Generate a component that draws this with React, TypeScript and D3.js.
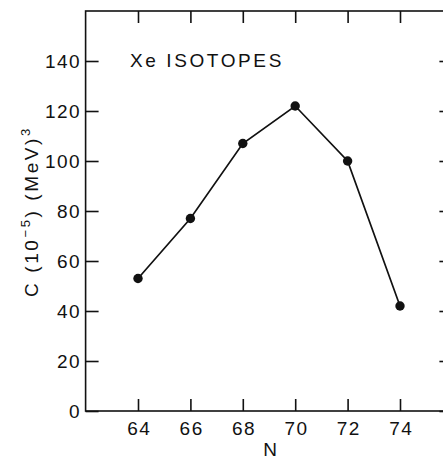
import React, { useEffect, useRef } from "react";
import * as d3 from "d3";

const neutrons = [64, 66, 68, 70, 72, 74];
const cValues = [53, 77, 107, 122, 100, 42];
const xTicks = [64, 66, 68, 70, 72, 74];
const yTicks = [0, 20, 40, 60, 80, 100, 120, 140];

export default function App() {
  const ref = useRef<SVGSVGElement>(null);

  useEffect(() => {
    const svg = d3.select(ref.current);
    svg.selectAll("*").remove();

    const width = 443;
    const height = 461;
    const font = "'Liberation Sans', Arial, Helvetica, sans-serif";
    const ink = "#111";

    svg.attr("width", width).attr("height", height);
    svg.append("rect").attr("width", width).attr("height", height).attr("fill", "#fff");

    const x = d3.scaleLinear().domain([62, 76]).range([85.6, 452.4]);
    const y = d3.scaleLinear().domain([0, 160]).range([411, 11]);

    // frame
    svg
      .append("rect")
      .attr("x", x(62))
      .attr("y", y(160))
      .attr("width", x(76) - x(62))
      .attr("height", y(0) - y(160))
      .attr("fill", "none")
      .attr("stroke", ink)
      .attr("stroke-width", 1.6);

    const styleAxis = (g: d3.Selection<SVGGElement, unknown, null, undefined>) => {
      g.select(".domain").remove();
      g.selectAll(".tick line").attr("stroke", ink).attr("stroke-width", 1.6);
      g.selectAll(".tick text")
        .attr("fill", ink)
        .style("font-family", font)
        .style("font-size", "19px")
        .style("letter-spacing", "1.5px");
    };

    svg
      .append("g")
      .attr("transform", `translate(${x(62)},0)`)
      .call(d3.axisLeft(y).tickValues(yTicks).tickSizeInner(-13).tickSizeOuter(0).tickPadding(4.5))
      .call(styleAxis);

    svg
      .append("g")
      .attr("transform", `translate(${x(76)},0)`)
      .call(d3.axisRight(y).tickValues(yTicks).tickSizeInner(-13).tickSizeOuter(0).tickFormat(() => ""))
      .call(styleAxis);

    svg
      .append("g")
      .attr("transform", `translate(0,${y(0)})`)
      .call(d3.axisBottom(x).tickValues(xTicks).tickSizeInner(-12).tickSizeOuter(0).tickPadding(11))
      .call(styleAxis)
      .selectAll(".tick text")
      .attr("dx", "0.75px");

    svg
      .append("g")
      .attr("transform", `translate(0,${y(160)})`)
      .call(d3.axisTop(x).tickValues(xTicks).tickSizeInner(-12).tickSizeOuter(0).tickFormat(() => ""))
      .call(styleAxis);

    const pts = neutrons.map((n, i) => [n, cValues[i]] as [number, number]);
    const line = d3
      .line<[number, number]>()
      .x((d) => x(d[0]))
      .y((d) => y(d[1]));

    svg
      .append("path")
      .attr("d", line(pts))
      .attr("fill", "none")
      .attr("stroke", ink)
      .attr("stroke-width", 1.7);

    svg
      .selectAll("circle.pt")
      .data(pts)
      .enter()
      .append("circle")
      .attr("class", "pt")
      .attr("cx", (d) => x(d[0]))
      .attr("cy", (d) => y(d[1]))
      .attr("r", 4.7)
      .attr("fill", ink);

    // title
    svg
      .append("text")
      .attr("x", 130)
      .attr("y", 67)
      .attr("fill", ink)
      .style("font-family", font)
      .style("font-size", "19px")
      .style("letter-spacing", "2.6px")
      .text("Xe ISOTOPES");

    // x label
    svg
      .append("text")
      .attr("x", 270)
      .attr("y", 456)
      .attr("text-anchor", "middle")
      .attr("fill", ink)
      .style("font-family", font)
      .style("font-size", "19px")
      .text("N");

    // y label
    const yl = svg
      .append("text")
      .attr("transform", "translate(38,297) rotate(-90)")
      .attr("fill", ink)
      .style("font-family", font)
      .style("font-size", "19px")
      .style("letter-spacing", "2.6px");
    yl.append("tspan").text("C (10");
    yl.append("tspan").attr("dy", -8).style("font-size", "13px").text("\u22125");
    yl.append("tspan").attr("dy", 8).text(") (MeV)");
    yl.append("tspan").attr("dy", -8).style("font-size", "13px").text("3");
  }, []);

  return (
    <div style={{ position: "absolute", left: 0, top: 0 }}>
      <svg ref={ref} style={{ display: "block" }} />
    </div>
  );
}
